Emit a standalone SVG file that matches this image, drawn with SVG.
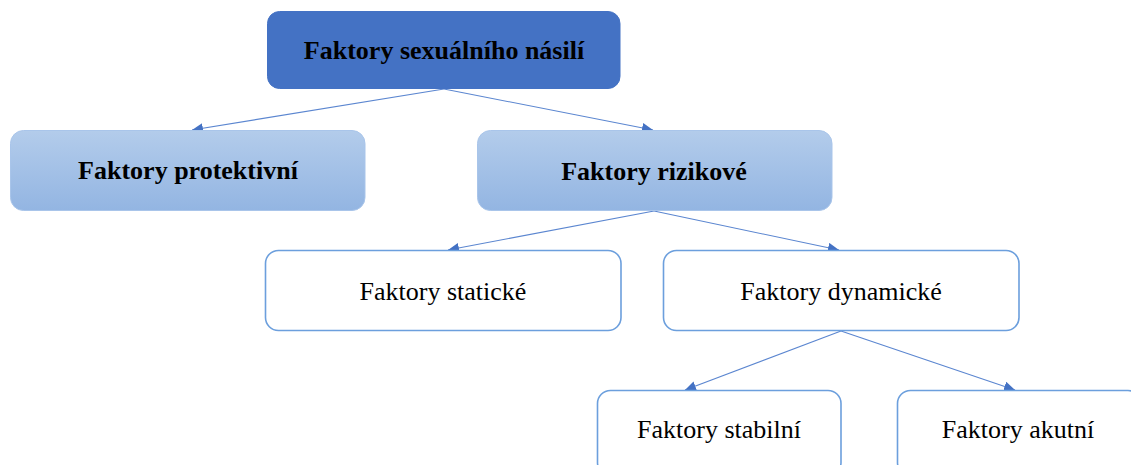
<svg xmlns="http://www.w3.org/2000/svg" width="1131" height="465" viewBox="0 0 1131 465">
  <style>
    .t { font-size: 26px; fill: #000; text-anchor: middle; }
    .b { font-weight: bold; }
    .top { fill: #4472C4; stroke: #4472C4; stroke-width: 1; }
    .mid { fill: url(#g); stroke: #a9c5ea; stroke-width: 1; }
    .low { fill: #ffffff; stroke: #6c9fdd; stroke-width: 1.6; }
    .c { stroke: #5b86d0; stroke-width: 1.1; fill: none; marker-end: url(#arr); }
  </style>
  <defs>
    <linearGradient id="g" x1="0" y1="0" x2="0" y2="1">
      <stop offset="0" stop-color="#b3cceb"/>
      <stop offset="1" stop-color="#93b5e2"/>
    </linearGradient>
    <marker id="arr" markerUnits="userSpaceOnUse" markerWidth="12" markerHeight="10" refX="11" refY="5" orient="auto">
      <path d="M0,0 L11,5 L0,10 Z" fill="#4472C4"/>
    </marker>
  </defs>
  <g id="connectors">
    <line class="c" x1="444" y1="89" x2="192" y2="130"/>
    <line class="c" x1="444" y1="89" x2="653" y2="130"/>
    <line class="c" x1="654" y1="211" x2="448" y2="250"/>
    <line class="c" x1="654" y1="211" x2="839" y2="250"/>
    <line class="c" x1="841" y1="331" x2="685" y2="390"/>
    <line class="c" x1="841" y1="331" x2="1015" y2="390"/>
  </g>
  <g id="n-root">
    <rect class="top" x="267.5" y="11.5" width="352.5" height="77" rx="12"/>
    <text class="t b" x="444" y="59" font-family="Liberation Serif">Faktory sexuálního násilí</text>
  </g>
  <g id="n-protektivni">
    <rect class="mid" x="10.5" y="130.5" width="354.5" height="80" rx="13"/>
    <text class="t b" x="188" y="179" font-family="Liberation Serif">Faktory protektivní</text>
  </g>
  <g id="n-rizikove">
    <rect class="mid" x="477.5" y="130.5" width="354.5" height="80" rx="13"/>
    <text class="t b" x="654" y="180" font-family="Liberation Serif">Faktory rizikové</text>
  </g>
  <g id="n-staticke">
    <rect class="low" x="265.5" y="250.5" width="355.5" height="80" rx="13"/>
    <text class="t" x="443" y="300" font-family="Liberation Serif">Faktory statické</text>
  </g>
  <g id="n-dynamicke">
    <rect class="low" x="663.5" y="250.5" width="355.5" height="80" rx="13"/>
    <text class="t" x="841" y="300" font-family="Liberation Serif">Faktory dynamické</text>
  </g>
  <g id="n-stabilni">
    <rect class="low" x="597.5" y="390.5" width="243.5" height="85" rx="13"/>
    <text class="t" x="719" y="438" font-family="Liberation Serif">Faktory stabilní</text>
  </g>
  <g id="n-akutni">
    <rect class="low" x="897.5" y="390.5" width="243.5" height="85" rx="13"/>
    <text class="t" x="1018" y="438" font-family="Liberation Serif">Faktory akutní</text>
  </g>
</svg>
